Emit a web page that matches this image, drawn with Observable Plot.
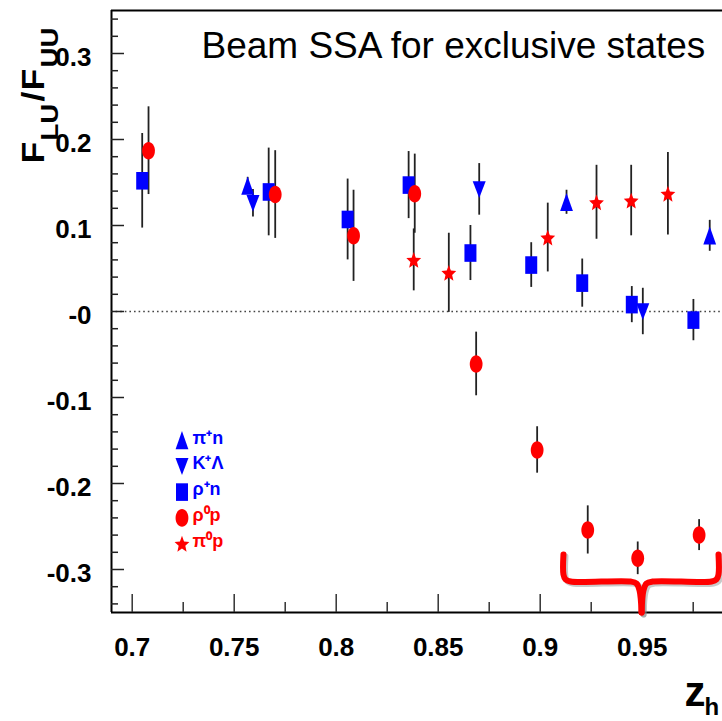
<!DOCTYPE html>
<html>
<head>
<meta charset="utf-8">
<script src="https://cdn.jsdelivr.net/npm/d3@7"></script>
<script src="https://cdn.jsdelivr.net/npm/@observablehq/plot@0.6"></script>
<style>
  html, body { margin: 0; padding: 0; background: #fff; overflow: hidden; }
  #chart svg { display: block; }
</style>
</head>
<body>
<div id="chart"></div>
<script>
// ---------------- data ----------------
const title = "Beam SSA for exclusive states";

// pi+ n  (blue, triangle up)
const piPlusN_x   = [0.7566, 0.9129, 0.9831];
const piPlusN_y   = [0.146, 0.127, 0.088];
const piPlusN_err = [0.010, 0.014, 0.018];

// K+ Lambda (blue, triangle down)
const kPlusLambda_x   = [0.7592, 0.8701, 0.9503];
const kPlusLambda_y   = [0.126, 0.142, 0.000];
const kPlusLambda_err = [0.016, 0.030, 0.027];

// rho+ n (blue, square)
const rhoPlusN_x   = [0.7049, 0.7669, 0.8056, 0.8355, 0.8658, 0.8956, 0.9206, 0.9449, 0.9751];
const rhoPlusN_y   = [0.152, 0.139, 0.107, 0.147, 0.068, 0.054, 0.033, 0.008, -0.010];
const rhoPlusN_err = [0.055, 0.051, 0.047, 0.039, 0.032, 0.026, 0.028, 0.021, 0.024];

// rho0 p (red, circle)
const rho0P_x   = [0.7080, 0.7701, 0.8085, 0.8385, 0.8686, 0.8985, 0.9233, 0.9478, 0.9779];
const rho0P_y   = [0.187, 0.136, 0.088, 0.137, -0.061, -0.161, -0.254, -0.287, -0.260];
const rho0P_err = [0.051, 0.051, 0.053, 0.046, 0.037, 0.027, 0.028, 0.019, 0.018];

// pi0 p (red, star)
const pi0P_x   = [0.8380, 0.8552, 0.9037, 0.9276, 0.9446, 0.9626];
const pi0P_y   = [0.060, 0.045, 0.086, 0.127, 0.129, 0.137];
const pi0P_err = [0.036, 0.046, 0.040, 0.043, 0.041, 0.048];

// axis ticks
const xTicks      = [0.7, 0.75, 0.8, 0.85, 0.9, 0.95];
const xTickLabels = ["0.7", "0.75", "0.8", "0.85", "0.9", "0.95"];
const yTicks      = [0.3, 0.2, 0.1, 0, -0.1, -0.2, -0.3];
const yTickLabels = ["0.3", "0.2", "0.1", "-0", "-0.1", "-0.2", "-0.3"];

// legend
const legendLabels = ["π⁺n", "K⁺Λ", "ρ⁺n", "ρ⁰p", "π⁰p"];

// annotation brace (data units)
const braceLeftX  = [0.9114, 0.9114, 0.9124, 0.9149, 0.9443, 0.9472, 0.9487, 0.9497];
const braceLeftY  = [-0.2826, -0.3058, -0.3116, -0.3140, -0.3140, -0.3163, -0.3244, -0.3500];
const braceRightX = [0.9497, 0.9506, 0.9521, 0.9551, 0.9840, 0.9864, 0.9874, 0.9874];
const braceRightY = [-0.3500, -0.3244, -0.3163, -0.3140, -0.3140, -0.3116, -0.3058, -0.2826];

// ---------------- layout ----------------
const W = 722, H = 721, ML = 111, MR = 0, MT = 10, MB = 109;
const X0 = 0.68985, X1 = 0.98936, Y0 = -0.35, Y1 = 0.35;
const pxX = (X1 - X0) / (W - ML - MR);
const pxY = (Y1 - Y0) / (H - MT - MB);
const BLUE = "#0000ff", RED = "#ff0000", BAR = "#222";
const FONT = "Liberation Sans, Arial, Helvetica, sans-serif";

// custom marker shapes (the reference markers are vertically elongated)
const KAPPA = 0.5523;
const ellipse = {draw(c) {
  const rx = 6.4, ry = 8.8;
  c.moveTo(rx, 0);
  c.bezierCurveTo(rx, ry * KAPPA, rx * KAPPA, ry, 0, ry);
  c.bezierCurveTo(-rx * KAPPA, ry, -rx, ry * KAPPA, -rx, 0);
  c.bezierCurveTo(-rx, -ry * KAPPA, -rx * KAPPA, -ry, 0, -ry);
  c.bezierCurveTo(rx * KAPPA, -ry, rx, -ry * KAPPA, rx, 0);
  c.closePath();
}};
const tallSquare = {draw(c) { c.rect(-6, -8.8, 12, 17.6); }};
const triUp = {draw(c) { c.moveTo(0, -9.4); c.lineTo(6.4, 8.8); c.lineTo(-6.4, 8.8); c.closePath(); }};
const triDown = {draw(c) { c.moveTo(0, 8.6); c.lineTo(6.5, -8.2); c.lineTo(-6.5, -8.2); c.closePath(); }};
const star = {draw(c) {
  const R = 7.8, r = 3.5, sy = 1.12;
  for (let i = 0; i < 10; i++) {
    const a = -Math.PI / 2 + i * Math.PI / 5, rad = i % 2 ? r : R;
    const px = rad * Math.cos(a), py = rad * Math.sin(a) * sy + 0.9;
    if (i) c.lineTo(px, py); else c.moveTo(px, py);
  }
  c.closePath();
}};

const series = [
  {x: piPlusN_x, y: piPlusN_y, e: piPlusN_err, color: BLUE, symbol: triUp},
  {x: kPlusLambda_x, y: kPlusLambda_y, e: kPlusLambda_err, color: BLUE, symbol: triDown},
  {x: rhoPlusN_x, y: rhoPlusN_y, e: rhoPlusN_err, color: BLUE, symbol: tallSquare},
  {x: rho0P_x, y: rho0P_y, e: rho0P_err, color: RED, symbol: ellipse},
  {x: pi0P_x, y: pi0P_y, e: pi0P_err, color: RED, symbol: star}
];
const rows = s => s.x.map((x, i) => ({x, y: s.y[i], e: s.e[i]}));

// legend layout
const LEG_X = 0.7244, LEG_Y0 = -0.150, LEG_DY = -0.030;

const yMinor = d3.range(-0.34, 0.3401, 0.02).filter(v => Math.abs(Math.round(v * 10) - v * 10) > 1e-6);
const xMinor = [0.725, 0.775, 0.825, 0.875, 0.925, 0.975];

const marks = [];

// zero line
marks.push(Plot.ruleY([0], {stroke: "#444", strokeWidth: 1.3, strokeDasharray: "1.6,3"}));

// error bars (under markers)
for (const s of series) {
  marks.push(Plot.ruleX(rows(s), {x: "x", y1: d => d.y - d.e, y2: d => d.y + d.e, stroke: BAR, strokeWidth: 1.8}));
}
// markers
for (const s of series) {
  marks.push(Plot.dot(rows(s), {x: "x", y: "y", symbol: s.symbol, fill: s.color, stroke: "none", r: 6}));
}

// frame (left, top, bottom)
marks.push(Plot.ruleY([Y0, Y1], {stroke: "#000", strokeWidth: 2}));
marks.push(Plot.ruleX([X0], {stroke: "#000", strokeWidth: 2}));

// inward ticks
marks.push(Plot.ruleY(yTicks, {x1: X0, x2: X0 + 13 * pxX, stroke: "#222", strokeWidth: 1.5}));
marks.push(Plot.ruleY(yMinor, {x1: X0, x2: X0 + 7 * pxX, stroke: "#222", strokeWidth: 1.5}));
marks.push(Plot.ruleX(xTicks, {y1: Y0, y2: Y0 + 18 * pxY, stroke: "#333", strokeWidth: 1.5}));
marks.push(Plot.ruleX(xMinor, {y1: Y0, y2: Y0 + 10 * pxY, stroke: "#333", strokeWidth: 1.5}));

// tick labels through Plot axes
marks.push(Plot.axisY(yTicks, {anchor: "left", tickSize: 0, tickPadding: 20, dy: 4, label: null, ariaLabel: "ylab",
  tickFormat: d => yTickLabels[yTicks.indexOf(d)], fontSize: 26, fontWeight: "bold", fontFamily: FONT, fill: "#000"}));
marks.push(Plot.axisX(xTicks, {anchor: "bottom", tickSize: 0, tickPadding: 25, label: null, ariaLabel: "xlab",
  tickFormat: d => xTickLabels[xTicks.indexOf(d)], fontSize: 26, fontWeight: "bold", fontFamily: FONT, fill: "#000"}));

// axis titles
const yLab = (text, fontSize, dx, dy) => Plot.text([text], {frameAnchor: "top-left", text: d => d, rotate: -90,
  textAnchor: "start", lineAnchor: "bottom", fontSize, fontWeight: "bold", fontFamily: FONT, fill: "#000", dx, dy});
marks.push(yLab("F", 31, -68, 153));
marks.push(yLab("LU", 24, -54, 130));
marks.push(yLab("/", 31, -68, 91));
marks.push(yLab("F", 31, -68, 80));
marks.push(yLab("UU", 24, -54, 57));

marks.push(Plot.text(["z"], {frameAnchor: "bottom-right", text: d => d, textAnchor: "start", lineAnchor: "bottom",
  fontSize: 42, fontWeight: "bold", fontFamily: FONT, fill: "#000", dx: -38, dy: 93}));
marks.push(Plot.text(["h"], {frameAnchor: "bottom-right", text: d => d, textAnchor: "start", lineAnchor: "bottom",
  fontSize: 24, fontWeight: "bold", fontFamily: FONT, fill: "#000", dx: -18, dy: 102}));

// title
marks.push(Plot.text([title], {frameAnchor: "top-left", text: d => d, textAnchor: "start", lineAnchor: "bottom",
  fontSize: 37, fontFamily: FONT, fill: "#000", dx: 90, dy: 47}));

// legend
series.forEach((s, i) => {
  const ly = LEG_Y0 + i * LEG_DY;
  marks.push(Plot.dot([0], {x: () => LEG_X, y: () => ly, symbol: s.symbol, fill: s.color, stroke: "none", r: 6}));
  marks.push(Plot.text([legendLabels[i]], {x: () => LEG_X, y: () => ly, text: d => d, textAnchor: "start",
    lineAnchor: "bottom", dx: 10.5, dy: 3, fontSize: 18, fontWeight: "bold", fontFamily: FONT, fill: s.color,
    ariaLabel: "legend label"}));
});

// brace annotation
const braceIdxL = braceLeftX.map((_, i) => i), braceIdxR = braceRightX.map((_, i) => i);
for (const [bx, by, idx] of [[braceLeftX, braceLeftY, braceIdxL], [braceRightX, braceRightY, braceIdxR]]) {
  marks.push(Plot.line(idx, {x: i => bx[i], y: i => by[i], curve: "catmull-rom", stroke: "#888", strokeOpacity: 0.45,
    strokeWidth: 6, strokeLinejoin: "round", dx: 2, dy: 2}));
}
for (const [bx, by, idx] of [[braceLeftX, braceLeftY, braceIdxL], [braceRightX, braceRightY, braceIdxR]]) {
  marks.push(Plot.line(idx, {x: i => bx[i], y: i => by[i], curve: "catmull-rom", stroke: RED,
    strokeWidth: 6, strokeLinejoin: "round"}));
}

const chart = Plot.plot({
  width: W, height: H,
  marginLeft: ML, marginRight: MR, marginTop: MT, marginBottom: MB,
  x: {domain: [X0, X1], axis: null},
  y: {domain: [Y0, Y1], axis: null},
  style: {fontFamily: FONT, background: "#fff", overflow: "visible"},
  marks
});

// the reference's axis lettering is slightly tall and narrow: stretch it vertically about its anchor
function stretch(el, sx, sy) {
  const t = el.getAttribute("transform") || "";
  if (/translate/.test(t)) el.setAttribute("transform", `${t} scale(${sx},${sy})`);
  else {
    const x = +el.getAttribute("x") || 0, y = +el.getAttribute("y") || 0;
    el.setAttribute("transform", `translate(${x},${y}) scale(${sx},${sy}) translate(${-x},${-y})`);
  }
}
chart.querySelectorAll('g[aria-label="ylab"] text, g[aria-label="xlab"] text').forEach(el => stretch(el, 1, 1.18));
chart.querySelectorAll('g[aria-label="legend label"] text').forEach(el => stretch(el, 1, 1.15));
chart.querySelectorAll("text").forEach(el => {
  if (/rotate/.test(el.getAttribute("transform") || "")) stretch(el, 1.15, 1);
});

document.getElementById("chart").append(chart);
</script>
</body>
</html>
